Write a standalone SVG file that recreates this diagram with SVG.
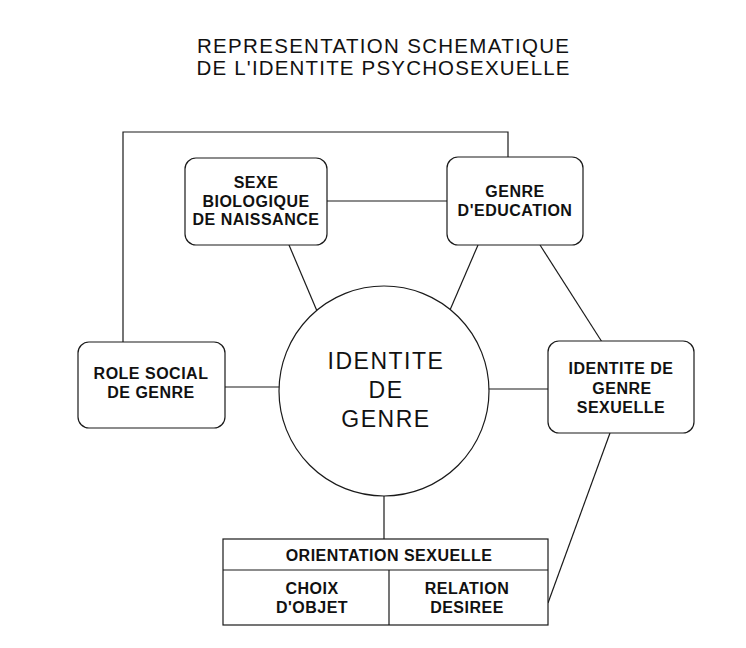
<svg xmlns="http://www.w3.org/2000/svg" width="746" height="648" viewBox="0 0 746 648">
<style>
.bg{fill:#fff}
.ln{fill:none;stroke:#1a1a1a;stroke-width:1.2}
.box{fill:#fff;stroke:#1a1a1a;stroke-width:1.2}
.t{font-family:"Liberation Sans",Arial,sans-serif;font-size:16px;font-weight:bold;fill:#111;text-anchor:middle;letter-spacing:0.5px}
.title{font-family:"Liberation Sans",Arial,sans-serif;font-size:20.5px;fill:#111;text-anchor:middle}
.big{font-family:"Liberation Sans",Arial,sans-serif;font-size:23px;fill:#111;text-anchor:middle;letter-spacing:1.5px}
</style>
<rect class="bg" x="0" y="0" width="746" height="648"/>
<g id="title">
<text class="title" x="383" y="53" textLength="372" lengthAdjust="spacing">REPRESENTATION SCHEMATIQUE</text>
<text class="title" x="383" y="75" textLength="373" lengthAdjust="spacing">DE L'IDENTITE PSYCHOSEXUELLE</text>
</g>
<g id="connectors">
<polyline class="ln" points="123,342 123,132 508,132 508,158"/>
<line class="ln" x1="327" y1="201" x2="447" y2="201"/>
<line class="ln" x1="289" y1="245" x2="317" y2="311"/>
<line class="ln" x1="478" y1="245" x2="450" y2="310"/>
<line class="ln" x1="540" y1="245" x2="602" y2="342"/>
<line class="ln" x1="225" y1="387" x2="280" y2="387"/>
<line class="ln" x1="488" y1="389" x2="548" y2="389"/>
<line class="ln" x1="610" y1="433" x2="548" y2="603"/>
<line class="ln" x1="384" y1="496" x2="384" y2="539"/>
</g>
<g id="sexe">
<rect class="box" x="185" y="158" width="142" height="87" rx="11"/>
<text class="t" x="256" y="188">SEXE</text>
<text class="t" x="256" y="207">BIOLOGIQUE</text>
<text class="t" x="256" y="225">DE NAISSANCE</text>
</g>
<g id="genre-education">
<rect class="box" x="447" y="157" width="136" height="88" rx="11"/>
<text class="t" x="515" y="197">GENRE</text>
<text class="t" x="515" y="216">D'EDUCATION</text>
</g>
<g id="role-social">
<rect class="box" x="78" y="342" width="147" height="86" rx="11"/>
<text class="t" x="151" y="379">ROLE SOCIAL</text>
<text class="t" x="151" y="398">DE GENRE</text>
</g>
<g id="identite-de-genre">
<circle class="box" cx="384" cy="391" r="105"/>
<text class="big" x="386" y="369">IDENTITE</text>
<text class="big" x="386" y="398">DE</text>
<text class="big" x="386" y="427">GENRE</text>
</g>
<g id="identite-genre-sexuelle">
<rect class="box" x="548" y="341" width="146" height="92" rx="11"/>
<text class="t" x="621" y="374">IDENTITE DE</text>
<text class="t" x="622" y="394">GENRE</text>
<text class="t" x="621" y="413">SEXUELLE</text>
</g>
<g id="orientation-sexuelle">
<rect class="box" x="223" y="539" width="325" height="86"/>
<line class="ln" x1="223" y1="570" x2="548" y2="570"/>
<line class="ln" x1="389" y1="570" x2="389" y2="625"/>
<text class="t" x="389" y="561">ORIENTATION SEXUELLE</text>
<text class="t" x="312" y="594">CHOIX</text>
<text class="t" x="312" y="613">D'OBJET</text>
<text class="t" x="467" y="594">RELATION</text>
<text class="t" x="467" y="613">DESIREE</text>
</g>
</svg>
